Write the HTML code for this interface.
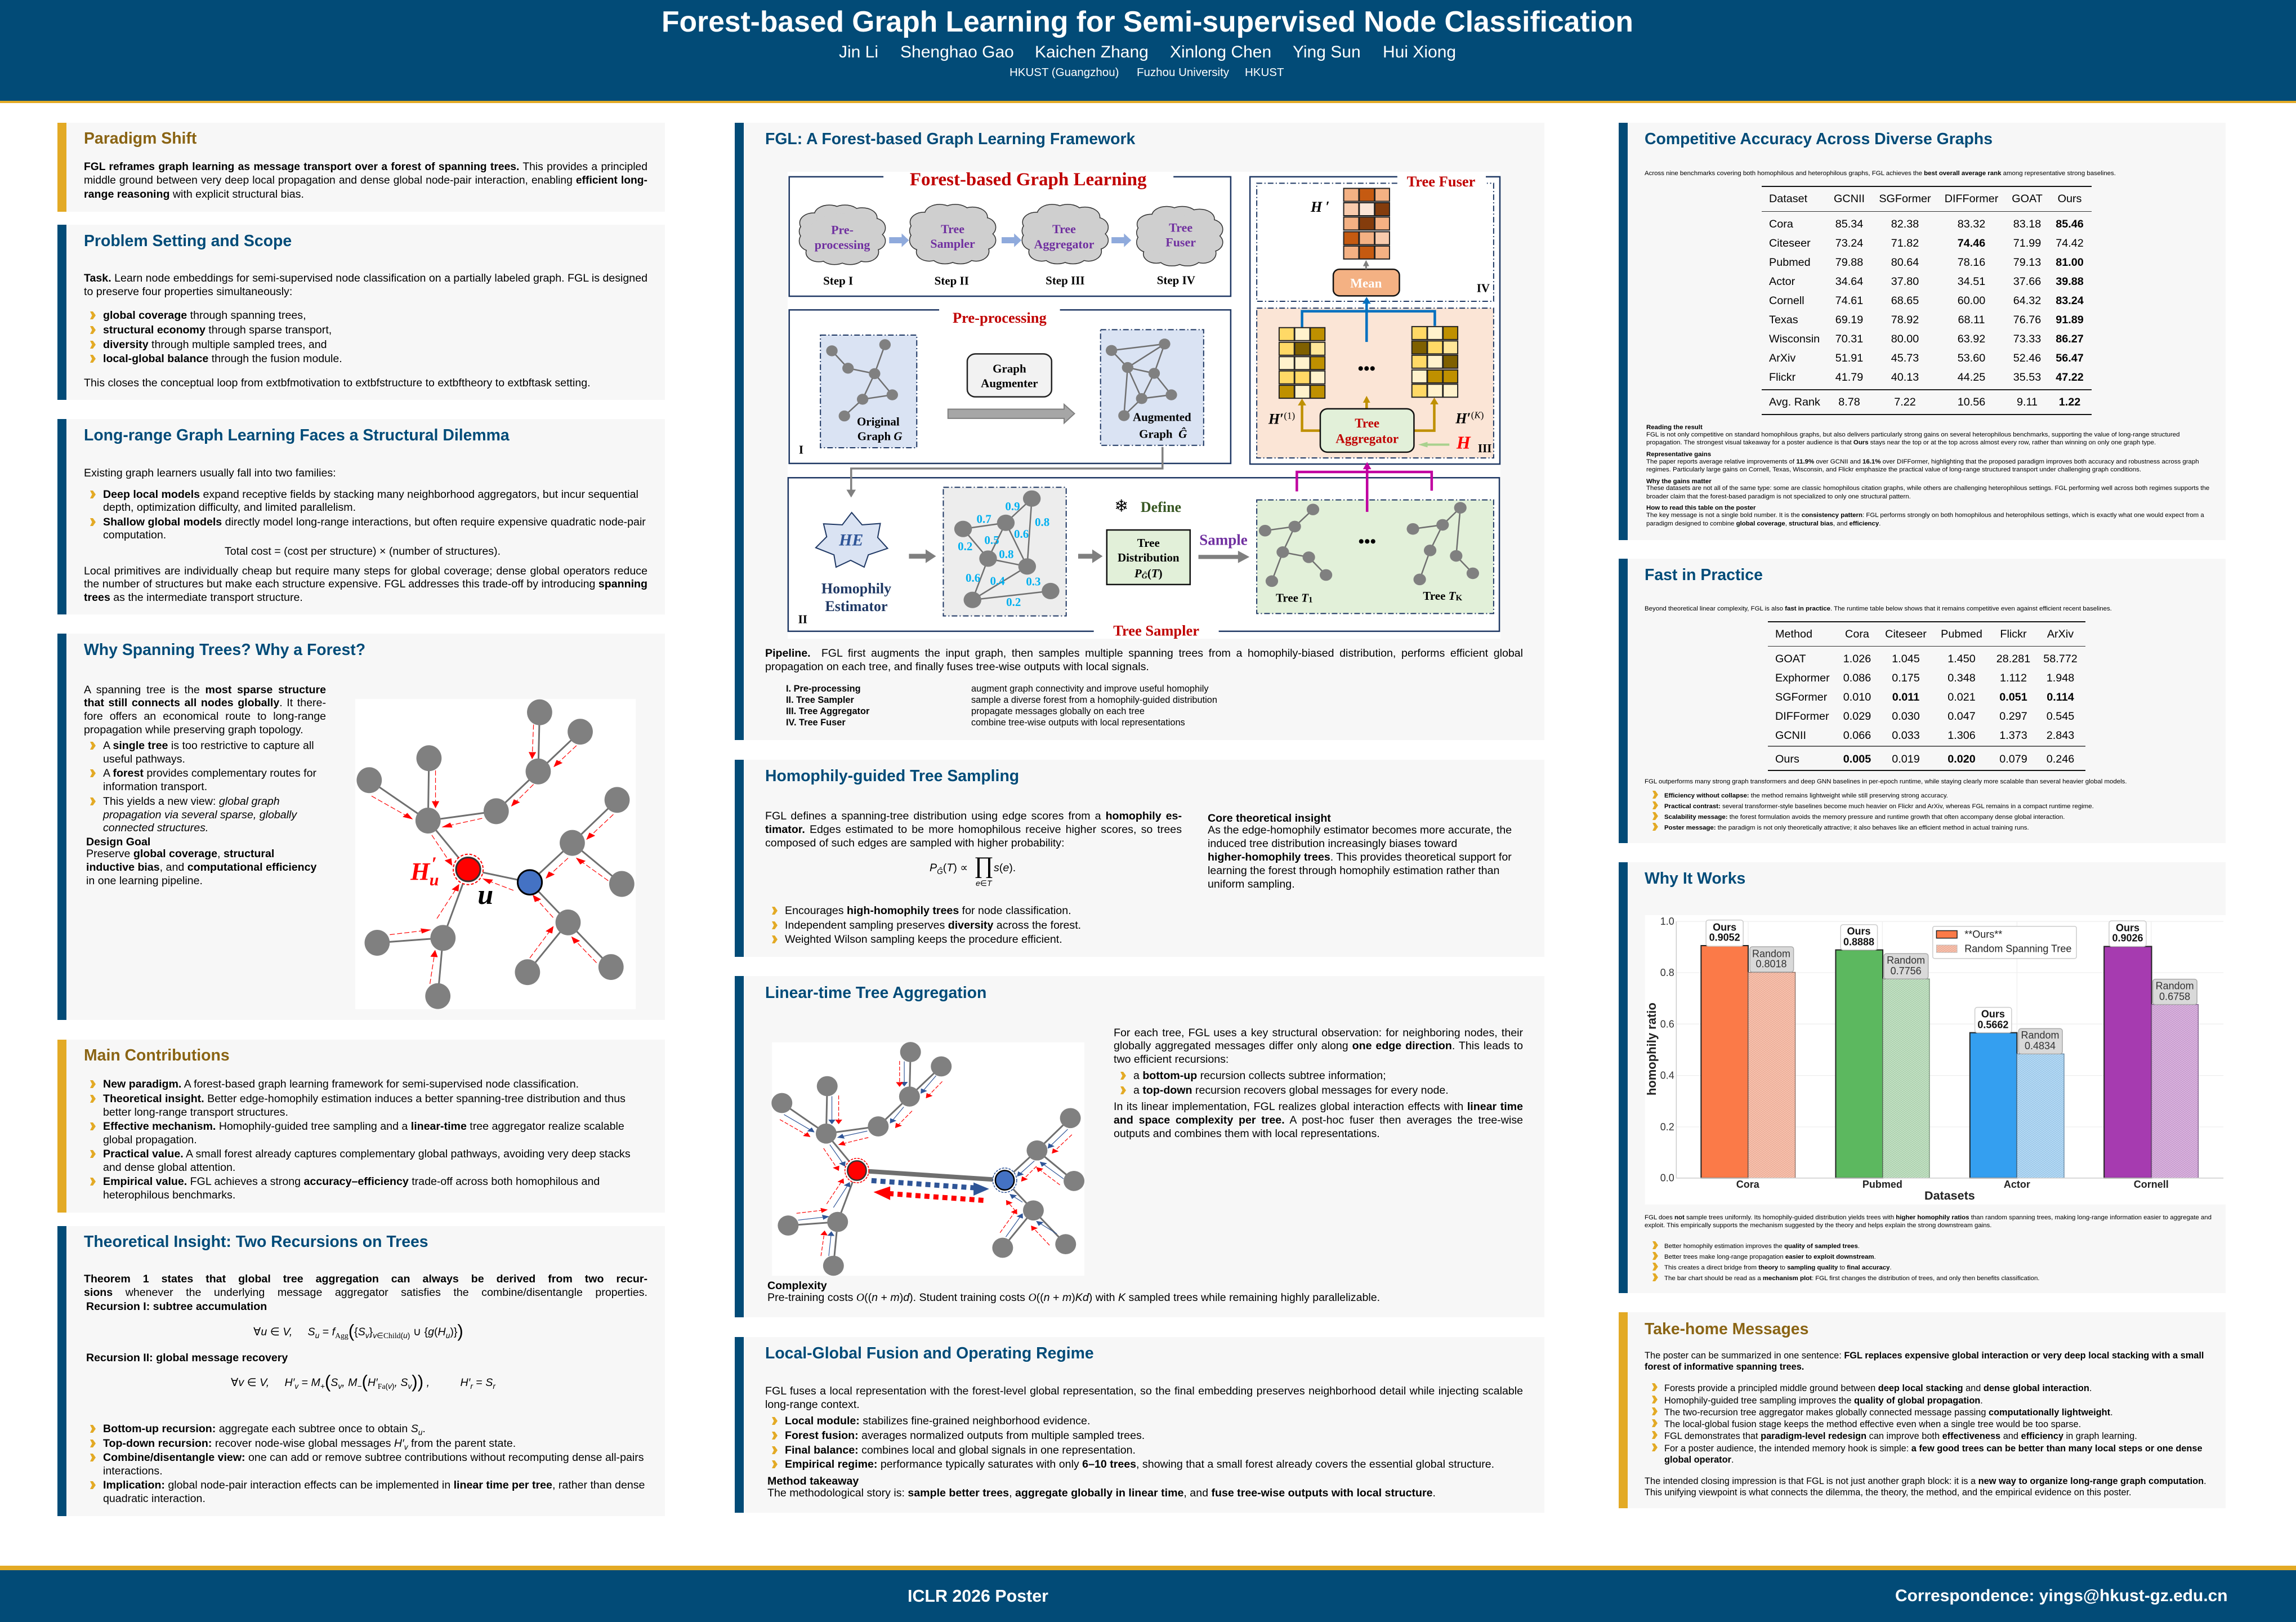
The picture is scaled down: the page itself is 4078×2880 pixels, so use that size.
<!DOCTYPE html>
<html><head><meta charset="utf-8"><title>FGL Poster</title>
<style>
html,body{margin:0;padding:0;background:#fff}
body{position:relative;width:4078px;height:2880px;overflow:hidden;font-family:"Liberation Sans",sans-serif;color:#000}
.bx{position:absolute}
p{position:absolute;margin:0;white-space:nowrap;font-size:19.6px;line-height:24px}
.j{text-align:justify;text-align-last:justify;white-space:normal}
.h{font-size:28.4px;line-height:34px;font-weight:bold;color:#004b78}
.g{color:#8a6414}
.s{font-size:11.45px;line-height:15px}
.m{font-size:16.35px;line-height:20px}
.li::before{content:"";position:absolute;left:-23px;top:5px;width:10px;height:14px;background:#e3aa25;clip-path:polygon(0 0,50% 0,100% 50%,50% 100%,0 100%,35% 50%)}
.m.li::before{left:-22px;top:1px}
.s.li::before{left:-21px;top:-2px}
.w{color:#fff}
.eq{font-style:italic}
.eq span{font-style:normal}
sub,sup{font-size:.7em;line-height:0}
.big{font-size:1.6em;font-style:normal;font-weight:normal;vertical-align:-.1em;line-height:0}
table{position:absolute;border-collapse:collapse;table-layout:fixed;font-size:19.8px;text-align:center}
td{padding:0}
td:first-child{text-align:left;padding-left:13px}
.r{position:absolute;background:#111}
svg{position:absolute;overflow:hidden}
svg *{vector-effect:non-scaling-stroke}
.f text{font-family:"Liberation Serif",serif;font-weight:bold;text-anchor:middle;dominant-baseline:central}
.c text{font-family:"Liberation Sans",sans-serif;text-anchor:middle;dominant-baseline:central}
</style></head><body>

<div class="bx" style="left:0;top:0;width:4078px;height:179px;background:#024b77"></div>
<div class="bx" style="left:0;top:179px;width:4078px;height:4px;background:#e3aa25"></div>
<div class="bx" style="left:0;top:2780px;width:4078px;height:8px;background:#e3aa25"></div>
<div class="bx" style="left:0;top:2788px;width:4078px;height:92px;background:#024b77"></div>

<p class="w" style="left:1175px;top:8px;font-size:51.6px;line-height:60px;font-weight:bold">Forest-based Graph Learning for Semi-supervised Node Classification</p>
<p class="w" style="left:1490px;top:75px;font-size:30px;line-height:36px">Jin Li</p>
<p class="w" style="left:1599px;top:75px;font-size:30px;line-height:36px">Shenghao Gao</p>
<p class="w" style="left:1838px;top:75px;font-size:30px;line-height:36px">Kaichen Zhang</p>
<p class="w" style="left:2078px;top:75px;font-size:30px;line-height:36px">Xinlong Chen</p>
<p class="w" style="left:2296px;top:75px;font-size:30px;line-height:36px">Ying Sun</p>
<p class="w" style="left:2456px;top:75px;font-size:30px;line-height:36px">Hui Xiong</p>
<p class="w" style="left:1793px;top:117px;font-size:20.5px">HKUST (Guangzhou)</p>
<p class="w" style="left:2019px;top:117px;font-size:20.5px">Fuzhou University</p>
<p class="w" style="left:2211px;top:117px;font-size:20.5px">HKUST</p>
<p class="w" style="left:1612px;top:2816px;font-size:30.4px;line-height:36px;font-weight:bold">ICLR 2026 Poster</p>
<p class="w" style="left:3366px;top:2816px;font-size:29.9px;line-height:36px;font-weight:bold">Correspondence: yings@hkust-gz.edu.cn</p>

<!-- panels: left -->
<div class="bx" style="left:102px;top:218px;width:1079px;height:158px;background:#f7f7f7;border-left:0"><div style="width:16px;height:100%;background:#e3aa25"></div></div>
<div class="bx" style="left:102px;top:399px;width:1079px;height:311px;background:#f7f7f7"><div style="width:16px;height:100%;background:#024b77"></div></div>
<div class="bx" style="left:102px;top:744px;width:1079px;height:347px;background:#f7f7f7"><div style="width:16px;height:100%;background:#024b77"></div></div>
<div class="bx" style="left:102px;top:1125px;width:1079px;height:686px;background:#f7f7f7"><div style="width:16px;height:100%;background:#024b77"></div></div>
<div class="bx" style="left:102px;top:1846px;width:1079px;height:307px;background:#f7f7f7"><div style="width:16px;height:100%;background:#e3aa25"></div></div>
<div class="bx" style="left:102px;top:2177px;width:1079px;height:515px;background:#f7f7f7"><div style="width:16px;height:100%;background:#024b77"></div></div>
<!-- panels: middle -->
<div class="bx" style="left:1305px;top:218px;width:1438px;height:1096px;background:#f7f7f7"><div style="width:16px;height:100%;background:#024b77"></div></div>
<div class="bx" style="left:1305px;top:1349px;width:1438px;height:350px;background:#f7f7f7"><div style="width:16px;height:100%;background:#024b77"></div></div>
<div class="bx" style="left:1305px;top:1733px;width:1438px;height:606px;background:#f7f7f7"><div style="width:16px;height:100%;background:#024b77"></div></div>
<div class="bx" style="left:1305px;top:2374px;width:1438px;height:312px;background:#f7f7f7"><div style="width:16px;height:100%;background:#024b77"></div></div>
<!-- panels: right -->
<div class="bx" style="left:2875px;top:218px;width:1078px;height:741px;background:#f7f7f7"><div style="width:16px;height:100%;background:#024b77"></div></div>
<div class="bx" style="left:2875px;top:992px;width:1078px;height:505px;background:#f7f7f7"><div style="width:16px;height:100%;background:#024b77"></div></div>
<div class="bx" style="left:2875px;top:1531px;width:1078px;height:765px;background:#f7f7f7"><div style="width:16px;height:100%;background:#024b77"></div></div>
<div class="bx" style="left:2875px;top:2330px;width:1078px;height:348px;background:#f7f7f7"><div style="width:16px;height:100%;background:#e3aa25"></div></div>

<!-- LEFT COLUMN TEXT -->
<p class="h g" style="left:149px;top:229px">Paradigm Shift</p>
<p class="j" style="left:149px;top:285px;width:1001px;font-size:19.3px;word-spacing:-2.5px"><b>FGL reframes graph learning as message transport over a forest of spanning trees.</b> This provides a principled</p>
<p class="j" style="left:149px;top:309px;width:1001px;font-size:19.3px;word-spacing:-2.5px">middle ground between very deep local propagation and dense global node-pair interaction, enabling <b>efficient long-</b></p>
<p style="left:149px;top:333px"><b>range reasoning</b> with explicit structural bias.</p>

<p class="h" style="left:149px;top:411px">Problem Setting and Scope</p>
<p class="j" style="left:149px;top:482px;width:1001px"><b>Task.</b> Learn node embeddings for semi-supervised node classification on a partially labeled graph. FGL is designed</p>
<p style="left:149px;top:506px">to preserve four properties simultaneously:</p>
<p class="li" style="left:183px;top:548px"><b>global coverage</b> through spanning trees,</p>
<p class="li" style="left:183px;top:574px"><b>structural economy</b> through sparse transport,</p>
<p class="li" style="left:183px;top:600px"><b>diversity</b> through multiple sampled trees, and</p>
<p class="li" style="left:183px;top:625px"><b>local-global balance</b> through the fusion module.</p>
<p style="left:149px;top:668px">This closes the conceptual loop from extbfmotivation to extbfstructure to extbftheory to extbftask setting.</p>

<p class="h" style="left:149px;top:756px">Long-range Graph Learning Faces a Structural Dilemma</p>
<p style="left:149px;top:828px">Existing graph learners usually fall into two families:</p>
<p class="li" style="left:183px;top:866px"><b>Deep local models</b> expand receptive fields by stacking many neighborhood aggregators, but incur sequential</p>
<p style="left:183px;top:889px">depth, optimization difficulty, and limited parallelism.</p>
<p class="li" style="left:183px;top:915px"><b>Shallow global models</b> directly model long-range interactions, but often require expensive quadratic node-pair</p>
<p style="left:183px;top:938px">computation.</p>
<p style="left:399px;top:967px">Total cost = (cost per structure) × (number of structures).</p>
<p class="j" style="left:149px;top:1002px;width:1001px">Local primitives are individually cheap but require many steps for global coverage; dense global operators reduce</p>
<p class="j" style="left:149px;top:1025px;width:1001px">the number of structures but make each structure expensive. FGL addresses this trade-off by introducing <b>spanning</b></p>
<p style="left:149px;top:1049px"><b>trees</b> as the intermediate transport structure.</p>

<p class="h" style="left:149px;top:1137px">Why Spanning Trees? Why a Forest?</p>
<p class="j" style="left:149px;top:1213px;width:430px">A spanning tree is the <b>most sparse structure</b></p>
<p class="j" style="left:149px;top:1236px;width:430px"><b>that still connects all nodes globally</b>. It there-</p>
<p class="j" style="left:149px;top:1260px;width:430px">fore offers an economical route to long-range</p>
<p style="left:149px;top:1284px">propagation while preserving graph topology.</p>
<p class="li" style="left:183px;top:1312px">A <b>single tree</b> is too restrictive to capture all</p>
<p style="left:183px;top:1336px">useful pathways.</p>
<p class="li" style="left:183px;top:1361px">A <b>forest</b> provides complementary routes for</p>
<p style="left:183px;top:1385px">information transport.</p>
<p class="li" style="left:183px;top:1411px">This yields a new view: <i>global graph</i></p>
<p style="left:183px;top:1435px"><i>propagation via several sparse, globally</i></p>
<p style="left:183px;top:1458px"><i>connected structures.</i></p>
<p style="left:153px;top:1483px"><b>Design Goal</b></p>
<p style="left:153px;top:1504px">Preserve <b>global coverage</b>, <b>structural</b></p>
<p style="left:153px;top:1528px"><b>inductive bias</b>, and <b>computational efficiency</b></p>
<p style="left:153px;top:1552px">in one learning pipeline.</p>

<!-- spanning tree figure -->
<svg class="f" style="left:0;top:1100px" width="1300" height="900" viewBox="0 0 1568 1568" preserveAspectRatio="none">
<defs><marker id="ra" markerUnits="userSpaceOnUse" markerWidth="22" markerHeight="22" refX="20" refY="11" orient="auto"><path d="M0 3 L22 11 L0 19 Z" fill="#f00"/></marker></defs>
<rect x="761" y="246" width="601" height="960" fill="#fff"/>
<g stroke="#6f6f6f" stroke-width="3" fill="none">
<path d="M1156 287L1153 470M1243 347L1153 470M1153 470L1063 593M1063 593L917 622M919 429L917 622M791 497L917 622M917 622L1003 773M1003 773L1135 813M1135 813L1226 691M1226 691L1322 558M1226 691L1332 818M1135 813L1217 937M1217 937L1309 1075M1217 937L1130 1091M1003 773L949 985M949 985L808 1000M949 985L938 1165"/>
</g>
<g stroke="#f00" stroke-width="1.2" stroke-dasharray="9 4" fill="none">
<line x1="1143" y1="325" x2="1140" y2="430" marker-end="url(#ra)"/><line x1="1235" y1="390" x2="1187" y2="455" marker-end="url(#ra)"/><line x1="1143" y1="510" x2="1096" y2="577" marker-end="url(#ra)"/><line x1="1033" y1="615" x2="948" y2="642" marker-end="url(#ra)"/><line x1="933" y1="467" x2="933" y2="582" marker-end="url(#ra)"/><line x1="796" y1="546" x2="883" y2="617" marker-end="url(#ra)"/><line x1="925" y1="667" x2="968" y2="760" marker-end="url(#ra)"/><line x1="936" y1="925" x2="983" y2="820" marker-end="url(#ra)"/><line x1="835" y1="975" x2="922" y2="960" marker-end="url(#ra)"/><line x1="921" y1="1127" x2="932" y2="1024" marker-end="url(#ra)"/><line x1="1100" y1="838" x2="1035" y2="802" marker-end="url(#ra)"/><line x1="1185" y1="922" x2="1142" y2="853" marker-end="url(#ra)"/><line x1="1135" y1="1047" x2="1185" y2="950" marker-end="url(#ra)"/><line x1="1278" y1="1062" x2="1225" y2="982" marker-end="url(#ra)"/><line x1="1217" y1="738" x2="1170" y2="800" marker-end="url(#ra)"/><line x1="1303" y1="808" x2="1235" y2="738" marker-end="url(#ra)"/><line x1="1314" y1="603" x2="1257" y2="680" marker-end="url(#ra)"/>
</g>
<g fill="#808080">
<ellipse cx="1156" cy="287" rx="27" ry="40"/><ellipse cx="1243" cy="347" rx="27" ry="40"/><ellipse cx="1153" cy="470" rx="27" ry="40"/><ellipse cx="1063" cy="593" rx="27" ry="40"/><ellipse cx="919" cy="429" rx="27" ry="40"/><ellipse cx="791" cy="497" rx="27" ry="40"/><ellipse cx="917" cy="622" rx="27" ry="40"/><ellipse cx="1226" cy="691" rx="27" ry="40"/><ellipse cx="1322" cy="558" rx="27" ry="40"/><ellipse cx="1332" cy="818" rx="27" ry="40"/><ellipse cx="1217" cy="937" rx="27" ry="40"/><ellipse cx="1309" cy="1075" rx="27" ry="40"/><ellipse cx="1130" cy="1091" rx="27" ry="40"/><ellipse cx="949" cy="985" rx="27" ry="40"/><ellipse cx="808" cy="1000" rx="27" ry="40"/><ellipse cx="938" cy="1165" rx="27" ry="40"/>
</g>
<ellipse cx="1003" cy="773" rx="32" ry="47" fill="#fff" stroke="#f00" stroke-width="2" stroke-dasharray="5 3"/>
<ellipse cx="1003" cy="773" rx="26" ry="37" fill="#f00" stroke="#333" stroke-width="3"/>
<ellipse cx="1135" cy="813" rx="26" ry="38" fill="#4472c4" stroke="#000" stroke-width="3"/>
<text transform="translate(900 780) scale(1.206 1.742)" font-size="44" font-style="italic" fill="#f00">H</text>
<text transform="translate(930 756) scale(1.206 1.742)" font-size="34" font-style="italic" fill="#f00">′</text>
<text transform="translate(930 806) scale(1.206 1.742)" font-size="30" font-style="italic" fill="#f00">u</text>
<text transform="translate(1040 850) scale(1.206 1.742)" font-size="50" font-style="italic" fill="#000">u</text>
</svg>

<p class="h g" style="left:149px;top:1857px">Main Contributions</p>
<p class="li" style="left:183px;top:1913px"><b>New paradigm.</b> A forest-based graph learning framework for semi-supervised node classification.</p>
<p class="li" style="left:183px;top:1939px"><b>Theoretical insight.</b> Better edge-homophily estimation induces a better spanning-tree distribution and thus</p>
<p style="left:183px;top:1963px">better long-range transport structures.</p>
<p class="li" style="left:183px;top:1988px"><b>Effective mechanism.</b> Homophily-guided tree sampling and a <b>linear-time</b> tree aggregator realize scalable</p>
<p style="left:183px;top:2012px">global propagation.</p>
<p class="li" style="left:183px;top:2037px"><b>Practical value.</b> A small forest already captures complementary global pathways, avoiding very deep stacks</p>
<p style="left:183px;top:2061px">and dense global attention.</p>
<p class="li" style="left:183px;top:2086px"><b>Empirical value.</b> FGL achieves a strong <b>accuracy–efficiency</b> trade-off across both homophilous and</p>
<p style="left:183px;top:2110px">heterophilous benchmarks.</p>

<p class="h" style="left:149px;top:2188px">Theoretical Insight: Two Recursions on Trees</p>
<p class="j" style="left:149px;top:2259px;width:1001px"><b>Theorem 1 states that global tree aggregation can always be derived from two recur-</b></p>
<p class="j" style="left:149px;top:2283px;width:1001px"><b>sions</b> whenever the underlying message aggregator satisfies the combine/disentangle properties.</p>
<p style="left:153px;top:2308px"><b>Recursion I: subtree accumulation</b></p>
<p class="eq" style="left:450px;top:2353px"><span>∀</span>u <span>∈</span> V,&nbsp;&nbsp;&nbsp;&nbsp;&nbsp;S<sub>u</sub> <span>=</span> f<sub><span style="font-family:'Liberation Serif'">Agg</span></sub><span class="big">(</span><span>{</span>S<sub>v</sub><span>}</span><sub>v<span>∈</span><span style="font-family:'Liberation Serif'">Child</span><span>(</span>u<span>)</span></sub> <span>∪</span> <span>{</span>g<span>(</span>H<sub>u</sub><span>)}</span><span class="big">)</span></p>
<p style="left:153px;top:2399px"><b>Recursion II: global message recovery</b></p>
<p class="eq" style="left:410px;top:2443px"><span>∀</span>v <span>∈</span> V,&nbsp;&nbsp;&nbsp;&nbsp;&nbsp;H′<sub>v</sub> <span>=</span> M<sub>+</sub><span class="big">(</span>S<sub>v</sub>, M<sub>−</sub><span class="big">(</span>H′<sub><span style="font-family:'Liberation Serif'">Fa</span><span>(</span>v<span>)</span></sub>, S<sub>v</sub><span class="big">))</span> ,&nbsp;&nbsp;&nbsp;&nbsp;&nbsp;&nbsp;&nbsp;&nbsp;&nbsp;&nbsp;H′<sub>r</sub> <span>=</span> S<sub>r</sub></p>
<p class="li" style="left:183px;top:2525px"><b>Bottom-up recursion:</b> aggregate each subtree once to obtain <i>S<sub>u</sub></i>.</p>
<p class="li" style="left:183px;top:2551px"><b>Top-down recursion:</b> recover node-wise global messages <i>H′<sub>v</sub></i> from the parent state.</p>
<p class="li" style="left:183px;top:2576px"><b>Combine/disentangle view:</b> one can add or remove subtree contributions without recomputing dense all-pairs</p>
<p style="left:183px;top:2600px">interactions.</p>
<p class="li" style="left:183px;top:2625px"><b>Implication:</b> global node-pair interaction effects can be implemented in <b>linear time per tree</b>, rather than dense</p>
<p style="left:183px;top:2649px">quadratic interaction.</p>

<!-- MIDDLE COLUMN -->
<p class="h" style="left:1359px;top:230px">FGL: A Forest-based Graph Learning Framework</p>

<svg class="f" style="left:1300px;top:200px" width="1450" height="950" viewBox="0 0 1568 1568" preserveAspectRatio="none">
<defs>
<g id="cl">
<g fill="#333" stroke="#333" stroke-width="3">
<ellipse cx="-55" cy="-35" rx="26" ry="28"/><ellipse cx="-25" cy="-58" rx="28" ry="28"/><ellipse cx="5" cy="-62" rx="27" ry="24"/><ellipse cx="38" cy="-50" rx="28" ry="28"/><ellipse cx="60" cy="-20" rx="22" ry="28"/><ellipse cx="62" cy="18" rx="20" ry="26"/><ellipse cx="45" cy="50" rx="24" ry="28"/><ellipse cx="15" cy="62" rx="26" ry="24"/><ellipse cx="-15" cy="62" rx="26" ry="24"/><ellipse cx="-45" cy="52" rx="24" ry="26"/><ellipse cx="-62" cy="18" rx="20" ry="28"/><ellipse cx="-62" cy="-10" rx="20" ry="26"/>
</g>
<g fill="#cfcfcf">
<ellipse cx="-55" cy="-35" rx="26" ry="28"/><ellipse cx="-25" cy="-58" rx="28" ry="28"/><ellipse cx="5" cy="-62" rx="27" ry="24"/><ellipse cx="38" cy="-50" rx="28" ry="28"/><ellipse cx="60" cy="-20" rx="22" ry="28"/><ellipse cx="62" cy="18" rx="20" ry="26"/><ellipse cx="45" cy="50" rx="24" ry="28"/><ellipse cx="15" cy="62" rx="26" ry="24"/><ellipse cx="-15" cy="62" rx="26" ry="24"/><ellipse cx="-45" cy="52" rx="24" ry="26"/><ellipse cx="-62" cy="18" rx="20" ry="28"/><ellipse cx="-62" cy="-10" rx="20" ry="26"/><ellipse cx="0" cy="0" rx="68" ry="62"/>
</g>
</g>
</defs>
<rect x="107" y="173" width="1369" height="1369" fill="#fff"/>
<g fill="none" stroke="#1f3864" stroke-width="2.5">
<path d="M291 188H110V538H958V188H848"/>
<path d="M398 578H110V1028H958V578H630"/>
<path d="M695 1520H108V1070H1474V1520H935"/>
<path d="M1278 188H995V1030H1475V188H1448"/>
</g>
<g fill="none" stroke="#1f3864" stroke-width="2" stroke-dasharray="10 4 2 4">
<path d="M1278 207H1008V553H1463V207H1450"/>
<rect x="1008" y="573" width="455" height="439" fill="#fbe5d6"/>
<rect x="170" y="652" width="185" height="330" fill="#dae3f3"/>
<rect x="708" y="636" width="198" height="339" fill="#dae3f3"/>
<rect x="406" y="1098" width="236" height="377" fill="#ededed"/>
<rect x="1008" y="1135" width="455" height="333" fill="#e2f0d9"/>
</g>
<use href="#cl" x="212" y="358"/><use href="#cl" x="424" y="356"/><use href="#cl" x="640" y="356"/><use href="#cl" x="860" y="362"/>
<g fill="#8faadc">
<polygon points="302,365 326,365 326,354 340,374 326,394 326,383 302,383"/>
<polygon points="518,365 542,365 542,354 556,374 542,394 542,383 518,383"/>
<polygon points="729,365 753,365 753,354 767,374 753,394 753,383 729,383"/>
</g>
<polygon points="415,869 638,869 638,855 658,882 638,910 638,896 415,896" fill="#a6a6a6" stroke="#7f7f7f" stroke-width="2"/>
<rect x="452" y="707" width="162" height="126" rx="16" ry="22" fill="#f2f2f2" stroke="#222" stroke-width="2.5"/>
<!-- graphs -->
<g stroke="#6f6f6f" stroke-width="2.5" fill="none">
<path d="M192 698L223 749L274 765L294 680M274 765L251 840L308 827L274 765M251 840L216 889"/>
<path d="M729 697L831 678L760 747L729 697M760 747L811 764L831 678M811 764L787 838L760 747M811 764L844 827L787 838L753 888L760 747"/>
<path d="M444 1220L526 1202L576 1131L567 1330L526 1202L492 1307L444 1220M492 1307L567 1330L462 1428L492 1307M462 1428L612 1402"/>
<path d="M1116 1163L1081 1213L1024 1225M1081 1213L1058 1288L1108 1303L1141 1355M1058 1288L1037 1373"/>
<path d="M1399 1158L1365 1208L1308 1220M1365 1208L1341 1283L1321 1368M1399 1158L1391 1299L1423 1350"/>
</g>
<g fill="#808080">
<ellipse cx="192" cy="698" rx="11" ry="16"/><ellipse cx="294" cy="680" rx="11" ry="16"/><ellipse cx="223" cy="749" rx="11" ry="16"/><ellipse cx="274" cy="765" rx="11" ry="16"/><ellipse cx="251" cy="840" rx="11" ry="16"/><ellipse cx="308" cy="827" rx="11" ry="16"/><ellipse cx="216" cy="889" rx="11" ry="16"/>
<ellipse cx="729" cy="697" rx="11" ry="16"/><ellipse cx="831" cy="678" rx="11" ry="16"/><ellipse cx="760" cy="747" rx="11" ry="16"/><ellipse cx="811" cy="764" rx="11" ry="16"/><ellipse cx="787" cy="838" rx="11" ry="16"/><ellipse cx="844" cy="827" rx="11" ry="16"/><ellipse cx="753" cy="888" rx="11" ry="16"/>
<ellipse cx="576" cy="1131" rx="17" ry="24"/><ellipse cx="444" cy="1220" rx="17" ry="24"/><ellipse cx="526" cy="1202" rx="17" ry="24"/><ellipse cx="492" cy="1307" rx="17" ry="24"/><ellipse cx="567" cy="1330" rx="17" ry="24"/><ellipse cx="462" cy="1428" rx="17" ry="24"/><ellipse cx="612" cy="1402" rx="17" ry="24"/>
<ellipse cx="1116" cy="1163" rx="12" ry="17"/><ellipse cx="1081" cy="1213" rx="12" ry="17"/><ellipse cx="1024" cy="1225" rx="12" ry="17"/><ellipse cx="1058" cy="1288" rx="12" ry="17"/><ellipse cx="1108" cy="1303" rx="12" ry="17"/><ellipse cx="1037" cy="1373" rx="12" ry="17"/><ellipse cx="1141" cy="1355" rx="12" ry="17"/>
<ellipse cx="1399" cy="1158" rx="12" ry="17"/><ellipse cx="1365" cy="1208" rx="12" ry="17"/><ellipse cx="1308" cy="1220" rx="12" ry="17"/><ellipse cx="1341" cy="1283" rx="12" ry="17"/><ellipse cx="1391" cy="1299" rx="12" ry="17"/><ellipse cx="1321" cy="1368" rx="12" ry="17"/><ellipse cx="1423" cy="1350" rx="12" ry="17"/>
</g>
<!-- connector -->
<path d="M827 980V1043H229V1108" fill="none" stroke="#808080" stroke-width="3.5"/>
<polygon points="220,1105 238,1105 229,1128" fill="#808080"/>
<!-- HE star -->
<polygon points="230,1172 250,1208 285,1204 280,1245 299,1277 262,1296 254,1332 228,1312 200,1332 196,1296 161,1275 182,1243 176,1205 212,1208" fill="#dae3f3" stroke="#1f3864" stroke-width="2"/>
<g fill="#7f7f7f">
<polygon points="340,1293 372,1293 372,1280 392,1300 372,1320 372,1307 340,1307"/>
<polygon points="665,1293 692,1293 692,1280 712,1300 692,1320 692,1307 665,1307"/>
<polygon points="896,1296 972,1296 972,1284 994,1302 972,1320 972,1308 896,1308"/>
</g>
<rect x="720" y="1223" width="160" height="160" fill="#e2f0d9" stroke="#111" stroke-width="2.5"/>
<!-- magenta -->
<path d="M1085 1110V1053H1344V1108M1220 1170V1040" fill="none" stroke="#c000a0" stroke-width="4.5"/>
<polygon points="1212,1045 1228,1045 1220,1024" fill="#c000a0"/>
<!-- Aggregator -->
<path d="M1130 932H1095V850M1310 932H1349V850M1219 868V845" fill="none" stroke="#bf9000" stroke-width="4.5"/>
<polygon points="1087,858 1103,858 1095,838" fill="#bf9000"/><polygon points="1341,855 1357,855 1349,835" fill="#bf9000"/><polygon points="1212,850 1226,850 1219,830" fill="#bf9000"/>
<rect x="1130" y="868" width="180" height="127" rx="14" ry="20" fill="#e2f0d9" stroke="#111" stroke-width="2.5"/>
<path d="M1378 973H1332" stroke="#a9d18e" stroke-width="4" fill="none"/><polygon points="1336,965 1336,981 1318,973" fill="#a9d18e"/>
<!-- blue bracket -->
<path d="M1095 630V582H1350V625M1219 672V555" fill="none" stroke="#0070c0" stroke-width="4.5"/>
<polygon points="1211,560 1227,560 1219,540" fill="#0070c0"/>
<!-- matrices -->
<g stroke="#222" stroke-width="2">
<rect x="1051" y="630" width="29" height="38" fill="#ffd966"/><rect x="1081" y="630" width="29" height="38" fill="#fff2cc"/><rect x="1111" y="630" width="28" height="38" fill="#bf9000"/>
<rect x="1051" y="673" width="29" height="38" fill="#ffd966"/><rect x="1081" y="673" width="29" height="38" fill="#7f6000"/><rect x="1111" y="673" width="28" height="38" fill="#ffe699"/>
<rect x="1051" y="715" width="29" height="38" fill="#fff2cc"/><rect x="1081" y="715" width="29" height="38" fill="#fff2cc"/><rect x="1111" y="715" width="28" height="38" fill="#bf9000"/>
<rect x="1051" y="757" width="29" height="38" fill="#ffd966"/><rect x="1081" y="757" width="29" height="38" fill="#ffd966"/><rect x="1111" y="757" width="28" height="38" fill="#fff2cc"/>
<rect x="1051" y="799" width="29" height="38" fill="#bf9000"/><rect x="1081" y="799" width="29" height="38" fill="#fff2cc"/><rect x="1111" y="799" width="28" height="38" fill="#bf9000"/>
<rect x="1306" y="627" width="29" height="38" fill="#ffd966"/><rect x="1336" y="627" width="29" height="38" fill="#fff2cc"/><rect x="1366" y="627" width="28" height="38" fill="#bf9000"/>
<rect x="1306" y="669" width="29" height="38" fill="#7f6000"/><rect x="1336" y="669" width="29" height="38" fill="#ffd966"/><rect x="1366" y="669" width="28" height="38" fill="#ffe699"/>
<rect x="1306" y="711" width="29" height="38" fill="#ffd966"/><rect x="1336" y="711" width="29" height="38" fill="#fff2cc"/><rect x="1366" y="711" width="28" height="38" fill="#7f6000"/>
<rect x="1306" y="754" width="29" height="38" fill="#fff2cc"/><rect x="1336" y="754" width="29" height="38" fill="#bf9000"/><rect x="1366" y="754" width="28" height="38" fill="#bf9000"/>
<rect x="1306" y="796" width="29" height="38" fill="#ffd966"/><rect x="1336" y="796" width="29" height="38" fill="#fff2cc"/><rect x="1366" y="796" width="28" height="38" fill="#fff2cc"/>
<rect x="1175" y="222" width="29" height="38" fill="#f4b183"/><rect x="1205" y="222" width="29" height="38" fill="#c55a11"/><rect x="1235" y="222" width="28" height="38" fill="#f4b183"/>
<rect x="1175" y="264" width="29" height="38" fill="#f8cbad"/><rect x="1205" y="264" width="29" height="38" fill="#fbe5d6"/><rect x="1235" y="264" width="28" height="38" fill="#843c0c"/>
<rect x="1175" y="306" width="29" height="38" fill="#f4b183"/><rect x="1205" y="306" width="29" height="38" fill="#843c0c"/><rect x="1235" y="306" width="28" height="38" fill="#f4b183"/>
<rect x="1175" y="349" width="29" height="38" fill="#c55a11"/><rect x="1205" y="349" width="29" height="38" fill="#f4b183"/><rect x="1235" y="349" width="28" height="38" fill="#f8cbad"/>
<rect x="1175" y="391" width="29" height="38" fill="#f4b183"/><rect x="1205" y="391" width="29" height="38" fill="#c55a11"/><rect x="1235" y="391" width="28" height="38" fill="#f4b183"/>
</g>
<rect x="1155" y="459" width="127" height="78" rx="12" ry="18" fill="#f4b183" stroke="#111" stroke-width="2.5"/>
<path d="M1218 459V445" stroke="#7f7f7f" stroke-width="3" fill="none"/><polygon points="1212,450 1224,450 1218,432" fill="#7f7f7f"/>
<!-- labels -->
<g fill="#000" font-size="21">
<text transform="translate(569 196) scale(1.081 1.65)" font-size="33" fill="#c00000">Forest-based Graph Learning</text>
<g fill="#7030a0" font-size="22">
<text transform="translate(212 343) scale(1.081 1.65)">Pre-</text><text transform="translate(212 387) scale(1.081 1.65)">processing</text>
<text transform="translate(424 341) scale(1.081 1.65)">Tree</text><text transform="translate(424 384) scale(1.081 1.65)">Sampler</text>
<text transform="translate(638 341) scale(1.081 1.65)">Tree</text><text transform="translate(638 385) scale(1.081 1.65)">Aggregator</text>
<text transform="translate(862 337) scale(1.081 1.65)">Tree</text><text transform="translate(862 380) scale(1.081 1.65)">Fuser</text>
</g>
<text transform="translate(204 493) scale(1.081 1.65)">Step I</text><text transform="translate(422 493) scale(1.081 1.65)">Step II</text><text transform="translate(640 492) scale(1.081 1.65)">Step III</text><text transform="translate(853 491) scale(1.081 1.65)">Step IV</text>
<text transform="translate(514 601) scale(1.081 1.65)" font-size="26.5" fill="#c00000">Pre-processing</text>
<text transform="translate(133 988) scale(1.081 1.65)">I</text>
<text transform="translate(136 1485) scale(1.081 1.65)">II</text>
<text transform="translate(1446 984) scale(1.081 1.65)">III</text>
<text transform="translate(1443 514) scale(1.081 1.65)">IV</text>
<text transform="translate(281 905) scale(1.081 1.65)">Original</text>
<text transform="translate(284 948) scale(1.081 1.65)">Graph <tspan font-style="italic">G</tspan></text>
<text transform="translate(826 892) scale(1.081 1.65)">Augmented</text>
<text transform="translate(828 942) scale(1.081 1.65)">Graph <tspan font-style="italic">&#160;Ĝ</tspan></text>
<text transform="translate(533 750) scale(1.081 1.65)">Graph</text><text transform="translate(533 793) scale(1.081 1.65)">Augmenter</text>
<text transform="translate(229 1253) scale(1.081 1.65)" font-size="30" font-style="italic" fill="#2f5597">HE</text>
<text transform="translate(239 1395) scale(1.081 1.65)" font-size="26" fill="#1f3864">Homophily</text>
<text transform="translate(239 1447) scale(1.081 1.65)" font-size="26" fill="#1f3864">Estimator</text>
<g fill="#00b0f0" font-size="21">
<text transform="translate(539 1154) scale(1.081 1.65)">0.9</text><text transform="translate(596 1200) scale(1.081 1.65)">0.8</text><text transform="translate(484 1191) scale(1.081 1.65)">0.7</text><text transform="translate(556 1235) scale(1.081 1.65)">0.6</text><text transform="translate(499 1253) scale(1.081 1.65)">0.5</text><text transform="translate(448 1271) scale(1.081 1.65)">0.2</text><text transform="translate(527 1294) scale(1.081 1.65)">0.8</text><text transform="translate(463 1363) scale(1.081 1.65)">0.6</text><text transform="translate(510 1372) scale(1.081 1.65)">0.4</text><text transform="translate(579 1374) scale(1.081 1.65)">0.3</text><text transform="translate(541 1434) scale(1.081 1.65)">0.2</text>
</g>
<text transform="translate(748 1154) scale(1.081 1.65)" font-size="30" style="font-family:'DejaVu Sans',sans-serif">❄</text>
<text transform="translate(824 1156) scale(1.081 1.65)" font-size="26" fill="#385723">Define</text>
<text transform="translate(800 1261) scale(1.081 1.65)">Tree</text><text transform="translate(800 1304) scale(1.081 1.65)">Distribution</text>
<text transform="translate(800 1350) scale(1.081 1.65)" font-style="italic">P<tspan font-size="14" dy="5">Ĝ</tspan><tspan dy="-5" font-style="normal">(</tspan>T<tspan font-style="normal">)</tspan></text>
<text transform="translate(944 1252) scale(1.081 1.65)" font-size="27" fill="#7030a0">Sample</text>
<text transform="translate(1080 1422) scale(1.081 1.65)">Tree <tspan font-style="italic">T</tspan><tspan font-size="15" dy="4">1</tspan></text>
<text transform="translate(1365 1416) scale(1.081 1.65)">Tree <tspan font-style="italic">T</tspan><tspan font-size="15" dy="4">K</tspan></text>
<text transform="translate(1220 1257) scale(1.081 1.65)" font-size="30">•••</text>
<text transform="translate(1219 750) scale(1.081 1.65)" font-size="30">•••</text>
<text transform="translate(815 1518) scale(1.081 1.65)" font-size="26.5" fill="#c00000">Tree Sampler</text>
<text transform="translate(1362 201) scale(1.081 1.65)" font-size="26.5" fill="#c00000">Tree Fuser</text>
<text transform="translate(1220 910) scale(1.081 1.65)" font-size="23" fill="#c00000">Tree</text>
<text transform="translate(1220 956) scale(1.081 1.65)" font-size="23" fill="#c00000">Aggregator</text>
<text transform="translate(1056 897) scale(1.081 1.65)" font-size="26"><tspan font-style="italic">H</tspan>′<tspan font-size="17" dy="-6" font-weight="normal">(1)</tspan></text>
<text transform="translate(1417 895) scale(1.081 1.65)" font-size="26"><tspan font-style="italic">H</tspan>′<tspan font-size="17" dy="-6" font-weight="normal">(<tspan font-style="italic">K</tspan>)</tspan></text>
<text transform="translate(1405 967) scale(1.081 1.65)" font-size="32" font-style="italic" fill="#f00">H</text>
<text transform="translate(1130 276) scale(1.081 1.65)" font-size="26"><tspan font-style="italic">H</tspan> ′</text>
<text transform="translate(1218 500) scale(1.081 1.65)" font-size="23" fill="#fff">Mean</text>
</g>
</svg>

<p class="j" style="left:1359px;top:1148px;width:1346px"><b>Pipeline.</b>&nbsp; FGL first augments the input graph, then samples multiple spanning trees from a homophily-biased distribution, performs efficient global</p>
<p style="left:1359px;top:1172px">propagation on each tree, and finally fuses tree-wise outputs with local signals.</p>
<p class="m" style="left:1396px;top:1213px"><b>I. Pre-processing</b></p><p class="m" style="left:1725px;top:1213px">augment graph connectivity and improve useful homophily</p>
<p class="m" style="left:1396px;top:1233px"><b>II. Tree Sampler</b></p><p class="m" style="left:1725px;top:1233px">sample a diverse forest from a homophily-guided distribution</p>
<p class="m" style="left:1396px;top:1253px"><b>III. Tree Aggregator</b></p><p class="m" style="left:1725px;top:1253px">propagate messages globally on each tree</p>
<p class="m" style="left:1396px;top:1273px"><b>IV. Tree Fuser</b></p><p class="m" style="left:1725px;top:1273px">combine tree-wise outputs with local representations</p>

<p class="h" style="left:1359px;top:1361px">Homophily-guided Tree Sampling</p>
<p class="j" style="left:1359px;top:1437px;width:740px">FGL defines a spanning-tree distribution using edge scores from a <b>homophily es-</b></p>
<p class="j" style="left:1359px;top:1461px;width:740px"><b>timator.</b> Edges estimated to be more homophilous receive higher scores, so trees</p>
<p style="left:1359px;top:1485px">composed of such edges are sampled with higher probability:</p>
<p class="eq" style="left:1651px;top:1529px">P<sub>Ĝ</sub><span>(</span>T<span>)</span> <span>∝</span></p>
<p style="left:1730px;top:1515px;font-family:'Liberation Serif',serif;font-size:42px;line-height:44px">∏</p>
<p class="eq" style="left:1765px;top:1529px">s<span>(</span>e<span>).</span></p>
<p class="eq" style="left:1733px;top:1560px;font-size:14px;line-height:16px">e<span>∈</span>T</p>
<p style="left:2145px;top:1441px"><b>Core theoretical insight</b></p>
<p style="left:2145px;top:1462px">As the edge-homophily estimator becomes more accurate, the</p>
<p style="left:2145px;top:1486px">induced tree distribution increasingly biases toward</p>
<p style="left:2145px;top:1510px"><b>higher-homophily trees</b>. This provides theoretical support for</p>
<p style="left:2145px;top:1534px">learning the forest through homophily estimation rather than</p>
<p style="left:2145px;top:1558px">uniform sampling.</p>
<p class="li" style="left:1394px;top:1605px">Encourages <b>high-homophily trees</b> for node classification.</p>
<p class="li" style="left:1394px;top:1631px">Independent sampling preserves <b>diversity</b> across the forest.</p>
<p class="li" style="left:1394px;top:1656px">Weighted Wilson sampling keeps the procedure efficient.</p>

<p class="h" style="left:1359px;top:1746px">Linear-time Tree Aggregation</p>

<svg style="left:1300px;top:1720px" width="1450" height="1000" viewBox="0 0 1568 1568" preserveAspectRatio="none">
<defs>
<marker id="rb" markerUnits="userSpaceOnUse" markerWidth="13" markerHeight="16" refX="12" refY="8" orient="auto"><path d="M0 1 L13 8 L0 15 Z" fill="#f00"/></marker>
<marker id="bb" markerUnits="userSpaceOnUse" markerWidth="13" markerHeight="16" refX="12" refY="8" orient="auto"><path d="M0 1 L13 8 L0 15 Z" fill="#2f5597"/></marker>
</defs>
<rect x="77" y="205" width="600" height="650" fill="#fff"/>
<path d="M343 232L341 356M402 272L341 356L281 439L181 459M183 327L181 459M96 374L181 459L240 562M586 506L650 416M586 506L657 591M586 506L524 589L579 673L641 767M579 673L520 777M240 562L203 705L108 715M203 705L195 827" fill="none" stroke="#6f6f6f" stroke-width="3"/>
<line x1="240" y1="562" x2="524" y2="589" stroke="#6f6f6f" stroke-width="8"/>
<g stroke="#2f5597" stroke-width="1.2" fill="none">
<line x1="331" y1="258" x2="331" y2="327" marker-end="url(#bb)"/><line x1="392" y1="298" x2="363" y2="347" marker-end="url(#bb)"/><line x1="330" y1="385" x2="304" y2="430" marker-end="url(#bb)"/><line x1="260" y1="452" x2="203" y2="470" marker-end="url(#bb)"/><line x1="192" y1="355" x2="192" y2="432" marker-end="url(#bb)"/><line x1="100" y1="406" x2="158" y2="455" marker-end="url(#bb)"/><line x1="188" y1="490" x2="217" y2="550" marker-end="url(#bb)"/><line x1="195" y1="665" x2="226" y2="595" marker-end="url(#bb)"/><line x1="127" y1="700" x2="186" y2="690" marker-end="url(#bb)"/><line x1="186" y1="800" x2="191" y2="732" marker-end="url(#bb)"/><line x1="581" y1="535" x2="548" y2="578" marker-end="url(#bb)"/><line x1="645" y1="447" x2="607" y2="500" marker-end="url(#bb)"/><line x1="637" y1="585" x2="592" y2="538" marker-end="url(#bb)"/><line x1="558" y1="650" x2="534" y2="628" marker-end="url(#bb)"/><line x1="526" y1="747" x2="558" y2="682" marker-end="url(#bb)"/><line x1="624" y1="738" x2="585" y2="703" marker-end="url(#bb)"/>
</g>
<g stroke="#f00" stroke-width="1.2" fill="none" stroke-dasharray="7 3">
<line x1="322" y1="257" x2="322" y2="328" marker-end="url(#rb)"/><line x1="404" y1="314" x2="373" y2="360" marker-end="url(#rb)"/><line x1="346" y1="396" x2="314" y2="443" marker-end="url(#rb)"/><line x1="262" y1="470" x2="205" y2="490" marker-end="url(#rb)"/><line x1="205" y1="353" x2="205" y2="432" marker-end="url(#rb)"/><line x1="92" y1="420" x2="150" y2="468" marker-end="url(#rb)"/><line x1="176" y1="500" x2="205" y2="562" marker-end="url(#rb)"/><line x1="182" y1="655" x2="214" y2="585" marker-end="url(#rb)"/><line x1="124" y1="681" x2="183" y2="671" marker-end="url(#rb)"/><line x1="171" y1="800" x2="178" y2="730" marker-end="url(#rb)"/><line x1="585" y1="550" x2="556" y2="592" marker-end="url(#rb)"/><line x1="653" y1="462" x2="615" y2="514" marker-end="url(#rb)"/><line x1="630" y1="602" x2="585" y2="553" marker-end="url(#rb)"/><line x1="545" y1="675" x2="527" y2="645" marker-end="url(#rb)"/><line x1="515" y1="735" x2="547" y2="670" marker-end="url(#rb)"/><line x1="610" y1="770" x2="575" y2="716" marker-end="url(#rb)"/>
</g>
<g fill="#808080">
<ellipse cx="343" cy="232" rx="20" ry="28"/><ellipse cx="402" cy="272" rx="20" ry="28"/><ellipse cx="341" cy="356" rx="20" ry="28"/><ellipse cx="281" cy="439" rx="20" ry="28"/><ellipse cx="183" cy="327" rx="20" ry="28"/><ellipse cx="96" cy="374" rx="20" ry="28"/><ellipse cx="181" cy="459" rx="20" ry="28"/><ellipse cx="586" cy="506" rx="20" ry="28"/><ellipse cx="650" cy="416" rx="20" ry="28"/><ellipse cx="657" cy="591" rx="20" ry="28"/><ellipse cx="579" cy="673" rx="20" ry="28"/><ellipse cx="641" cy="767" rx="20" ry="28"/><ellipse cx="520" cy="777" rx="20" ry="28"/><ellipse cx="203" cy="705" rx="20" ry="28"/><ellipse cx="108" cy="715" rx="20" ry="28"/><ellipse cx="195" cy="827" rx="20" ry="28"/>
</g>
<ellipse cx="240" cy="562" rx="23" ry="34" fill="#fff" stroke="#f00" stroke-width="1.6" stroke-dasharray="4 2"/>
<ellipse cx="240" cy="562" rx="18" ry="27" fill="#f00" stroke="#333" stroke-width="2.5"/>
<ellipse cx="524" cy="589" rx="23" ry="34" fill="#fff" stroke="#2f5597" stroke-width="1.6" stroke-dasharray="4 2"/>
<ellipse cx="524" cy="589" rx="18" ry="27" fill="#4472c4" stroke="#000" stroke-width="2.5"/>
<line x1="268" y1="590" x2="465" y2="610" stroke="#2f5597" stroke-width="9" stroke-dasharray="9 7"/>
<polygon points="464,595 494,613 464,632" fill="#2f5597"/>
<line x1="483" y1="645" x2="300" y2="626" stroke="#f00" stroke-width="9" stroke-dasharray="9 7"/>
<polygon points="304,606 272,622 304,644" fill="#f00"/>
</svg>

<p class="j" style="left:1978px;top:1822px;width:727px">For each tree, FGL uses a key structural observation: for neighboring nodes, their</p>
<p class="j" style="left:1978px;top:1845px;width:727px">globally aggregated messages differ only along <b>one edge direction</b>. This leads to</p>
<p style="left:1978px;top:1869px">two efficient recursions:</p>
<p class="li" style="left:2013px;top:1898px">a <b>bottom-up</b> recursion collects subtree information;</p>
<p class="li" style="left:2013px;top:1924px">a <b>top-down</b> recursion recovers global messages for every node.</p>
<p class="j" style="left:1978px;top:1953px;width:727px">In its linear implementation, FGL realizes global interaction effects with <b>linear time</b></p>
<p class="j" style="left:1978px;top:1977px;width:727px"><b>and space complexity per tree.</b> A post-hoc fuser then averages the tree-wise</p>
<p style="left:1978px;top:2001px">outputs and combines them with local representations.</p>
<p style="left:1363px;top:2271px"><b>Complexity</b></p>
<p style="left:1363px;top:2292px">Pre-training costs <span style="font-family:'Liberation Serif',serif"><i>O</i></span>((<i>n</i> + <i>m</i>)<i>d</i>). Student training costs <span style="font-family:'Liberation Serif',serif"><i>O</i></span>((<i>n</i> + <i>m</i>)<i>Kd</i>) with <i>K</i> sampled trees while remaining highly parallelizable.</p>

<p class="h" style="left:1359px;top:2386px">Local-Global Fusion and Operating Regime</p>
<p class="j" style="left:1359px;top:2458px;width:1346px">FGL fuses a local representation with the forest-level global representation, so the final embedding preserves neighborhood detail while injecting scalable</p>
<p style="left:1359px;top:2482px">long-range context.</p>
<p class="li" style="left:1394px;top:2511px"><b>Local module:</b> stabilizes fine-grained neighborhood evidence.</p>
<p class="li" style="left:1394px;top:2537px"><b>Forest fusion:</b> averages normalized outputs from multiple sampled trees.</p>
<p class="li" style="left:1394px;top:2563px"><b>Final balance:</b> combines local and global signals in one representation.</p>
<p class="li" style="left:1394px;top:2588px"><b>Empirical regime:</b> performance typically saturates with only <b>6–10 trees</b>, showing that a small forest already covers the essential global structure.</p>
<p style="left:1363px;top:2618px"><b>Method takeaway</b></p>
<p style="left:1363px;top:2639px">The methodological story is: <b>sample better trees</b>, <b>aggregate globally in linear time</b>, and <b>fuse tree-wise outputs with local structure</b>.</p>

<!-- RIGHT COLUMN -->
<p class="h" style="left:2921px;top:230px">Competitive Accuracy Across Diverse Graphs</p>
<p class="s" style="left:2921px;top:301px">Across nine benchmarks covering both homophilous and heterophilous graphs, FGL achieves the <b>best overall average rank</b> among representative strong baselines.</p>
<div class="r" style="left:3129px;top:330px;width:586px;height:2px"></div>
<div class="r" style="left:3129px;top:375px;width:586px;height:1px;background:#333"></div>
<div class="r" style="left:3129px;top:691px;width:586px;height:2px;background:#222"></div>
<div class="r" style="left:3129px;top:735px;width:586px;height:2px"></div>
<table style="left:3129px;top:331px;width:586px">
<colgroup><col style="width:112px"><col style="width:87px"><col style="width:111px"><col style="width:125px"><col style="width:73px"><col style="width:78px"></colgroup>
<tr style="height:45px"><td>Dataset</td><td>GCNII</td><td>SGFormer</td><td>DIFFormer</td><td>GOAT</td><td>Ours</td></tr>
<tr style="height:5px"><td colspan="6" style="font-size:0"></td></tr>
<tr style="height:34px"><td>Cora</td><td>85.34</td><td>82.38</td><td>83.32</td><td>83.18</td><td><b>85.46</b></td></tr>
<tr style="height:34px"><td>Citeseer</td><td>73.24</td><td>71.82</td><td><b>74.46</b></td><td>71.99</td><td>74.42</td></tr>
<tr style="height:34px"><td>Pubmed</td><td>79.88</td><td>80.64</td><td>78.16</td><td>79.13</td><td><b>81.00</b></td></tr>
<tr style="height:34px"><td>Actor</td><td>34.64</td><td>37.80</td><td>34.51</td><td>37.66</td><td><b>39.88</b></td></tr>
<tr style="height:34px"><td>Cornell</td><td>74.61</td><td>68.65</td><td>60.00</td><td>64.32</td><td><b>83.24</b></td></tr>
<tr style="height:34px"><td>Texas</td><td>69.19</td><td>78.92</td><td>68.11</td><td>76.76</td><td><b>91.89</b></td></tr>
<tr style="height:34px"><td>Wisconsin</td><td>70.31</td><td>80.00</td><td>63.92</td><td>73.33</td><td><b>86.27</b></td></tr>
<tr style="height:34px"><td>ArXiv</td><td>51.91</td><td>45.73</td><td>53.60</td><td>52.46</td><td><b>56.47</b></td></tr>
<tr style="height:34px"><td>Flickr</td><td>41.79</td><td>40.13</td><td>44.25</td><td>35.53</td><td><b>47.22</b></td></tr>
<tr style="height:5px"><td colspan="6" style="font-size:0"></td></tr>
<tr style="height:44px"><td>Avg. Rank</td><td>8.78</td><td>7.22</td><td>10.56</td><td>9.11</td><td><b>1.22</b></td></tr>
</table>
<p class="s" style="left:2924px;top:752px"><b>Reading the result</b></p>
<p class="s" style="left:2924px;top:765px">FGL is not only competitive on standard homophilous graphs, but also delivers particularly strong gains on several heterophilous benchmarks, supporting the value of long-range structured</p>
<p class="s" style="left:2924px;top:779px">propagation. The strongest visual takeaway for a poster audience is that <b>Ours</b> stays near the top or at the top across almost every row, rather than winning on only one graph type.</p>
<p class="s" style="left:2924px;top:800px"><b>Representative gains</b></p>
<p class="s" style="left:2924px;top:813px">The paper reports average relative improvements of <b>11.9%</b> over GCNII and <b>16.1%</b> over DIFFormer, highlighting that the proposed paradigm improves both accuracy and robustness across graph</p>
<p class="s" style="left:2924px;top:827px">regimes. Particularly large gains on Cornell, Texas, Wisconsin, and Flickr emphasize the practical value of long-range structured transport under challenging graph conditions.</p>
<p class="s" style="left:2924px;top:848px"><b>Why the gains matter</b></p>
<p class="s" style="left:2924px;top:860px">These datasets are not all of the same type: some are classic homophilous citation graphs, while others are challenging heterophilous settings. FGL performing well across both regimes supports the</p>
<p class="s" style="left:2924px;top:875px">broader claim that the forest-based paradigm is not specialized to only one structural pattern.</p>
<p class="s" style="left:2924px;top:895px"><b>How to read this table on the poster</b></p>
<p class="s" style="left:2924px;top:908px">The key message is not a single bold number. It is the <b>consistency pattern</b>: FGL performs strongly on both homophilous and heterophilous settings, which is exactly what one would expect from a</p>
<p class="s" style="left:2924px;top:923px">paradigm designed to combine <b>global coverage</b>, <b>structural bias</b>, and <b>efficiency</b>.</p>

<p class="h" style="left:2921px;top:1004px">Fast in Practice</p>
<p class="s" style="left:2921px;top:1074px">Beyond theoretical linear complexity, FGL is also <b>fast in practice</b>. The runtime table below shows that it remains competitive even against efficient recent baselines.</p>
<div class="r" style="left:3140px;top:1103px;width:564px;height:2px"></div>
<div class="r" style="left:3140px;top:1147px;width:564px;height:1px;background:#333"></div>
<div class="r" style="left:3140px;top:1324px;width:564px;height:2px;background:#666"></div>
<div class="r" style="left:3140px;top:1367px;width:564px;height:2px"></div>
<table style="left:3140px;top:1104px;width:564px">
<colgroup><col style="width:118px"><col style="width:81px"><col style="width:92px"><col style="width:106px"><col style="width:78px"><col style="width:89px"></colgroup>
<tr style="height:44px"><td>Method</td><td>Cora</td><td>Citeseer</td><td>Pubmed</td><td>Flickr</td><td>ArXiv</td></tr>
<tr style="height:5px"><td colspan="6" style="font-size:0"></td></tr>
<tr style="height:34px"><td>GOAT</td><td>1.026</td><td>1.045</td><td>1.450</td><td>28.281</td><td>58.772</td></tr>
<tr style="height:34px"><td>Exphormer</td><td>0.086</td><td>0.175</td><td>0.348</td><td>1.112</td><td>1.948</td></tr>
<tr style="height:34px"><td>SGFormer</td><td>0.010</td><td><b>0.011</b></td><td>0.021</td><td><b>0.051</b></td><td><b>0.114</b></td></tr>
<tr style="height:34px"><td>DIFFormer</td><td>0.029</td><td>0.030</td><td>0.047</td><td>0.297</td><td>0.545</td></tr>
<tr style="height:34px"><td>GCNII</td><td>0.066</td><td>0.033</td><td>1.306</td><td>1.373</td><td>2.843</td></tr>
<tr style="height:4px"><td colspan="6" style="font-size:0"></td></tr>
<tr style="height:43px"><td>Ours</td><td><b>0.005</b></td><td>0.019</td><td><b>0.020</b></td><td>0.079</td><td>0.246</td></tr>
</table>
<p class="s" style="left:2921px;top:1381px">FGL outperforms many strong graph transformers and deep GNN baselines in per-epoch runtime, while staying clearly more scalable than several heavier global models.</p>
<p class="s li" style="left:2956px;top:1406px"><b>Efficiency without collapse:</b> the method remains lightweight while still preserving strong accuracy.</p>
<p class="s li" style="left:2956px;top:1425px"><b>Practical contrast:</b> several transformer-style baselines become much heavier on Flickr and ArXiv, whereas FGL remains in a compact runtime regime.</p>
<p class="s li" style="left:2956px;top:1444px"><b>Scalability message:</b> the forest formulation avoids the memory pressure and runtime growth that often accompany dense global interaction.</p>
<p class="s li" style="left:2956px;top:1463px"><b>Poster message:</b> the paradigm is not only theoretically attractive; it also behaves like an efficient method in actual training runs.</p>

<p class="h" style="left:2921px;top:1543px">Why It Works</p>

<svg class="c" style="left:2860px;top:1530px" width="1150" height="800" viewBox="0 0 1568 1568" preserveAspectRatio="none">
<defs>
<pattern id="h1" width="5" height="5" patternUnits="userSpaceOnUse" patternTransform="rotate(45)"><rect width="5" height="5" fill="#f7c4b2"/><rect width="2" height="5" fill="#eaa78f"/></pattern>
<pattern id="h2" width="5" height="5" patternUnits="userSpaceOnUse" patternTransform="rotate(45)"><rect width="5" height="5" fill="#c6e2c7"/><rect width="2" height="5" fill="#a3cba5"/></pattern>
<pattern id="h3" width="5" height="5" patternUnits="userSpaceOnUse" patternTransform="rotate(45)"><rect width="5" height="5" fill="#b9dcf5"/><rect width="2" height="5" fill="#93c1e5"/></pattern>
<pattern id="h4" width="5" height="5" patternUnits="userSpaceOnUse" patternTransform="rotate(45)"><rect width="5" height="5" fill="#dcb8e0"/><rect width="2" height="5" fill="#c090c8"/></pattern>
</defs>
<rect x="84" y="186" width="1407" height="1007" fill="#fff"/>
<g stroke="#eee" stroke-width="1.2" fill="none">
<path d="M160 208H1485M160 386H1485M160 565H1485M160 744H1485M160 923H1485M334 208V1101M659 208V1101M985 208V1101M1310 208V1101"/>
</g>
<g stroke="#222" stroke-width="2">
<rect x="220" y="292" width="114" height="809" fill="#fb7a48"/>
<rect x="546" y="307" width="114" height="794" fill="#5cb85f"/>
<rect x="871" y="595" width="114" height="506" fill="#349ff0"/>
<rect x="1196" y="295" width="115" height="806" fill="#a63bb0"/>
</g>
<g stroke-width="1.3">
<rect x="334" y="385" width="114" height="716" fill="url(#h1)" stroke="#8a6a60"/>
<rect x="660" y="408" width="113" height="693" fill="url(#h2)" stroke="#6f8a70"/>
<rect x="985" y="669" width="114" height="432" fill="url(#h3)" stroke="#6585a0"/>
<rect x="1311" y="497" width="113" height="604" fill="url(#h4)" stroke="#7a5a85"/>
</g>
<path d="M160 208V1101H1485" fill="none" stroke="#ccc" stroke-width="1.5"/>
<g stroke="#ccc" stroke-width="1.5" fill="#fff">
<rect x="232" y="203" width="90" height="91" rx="6" ry="8"/><rect x="558" y="219" width="89" height="88" rx="6" ry="8"/><rect x="883" y="507" width="89" height="88" rx="6" ry="8"/><rect x="1208" y="206" width="90" height="89" rx="6" ry="8"/>
</g>
<g stroke="#aaa" stroke-width="1.5" fill="#d9d9d9">
<rect x="338" y="296" width="106" height="88" rx="6" ry="8"/><rect x="663" y="320" width="107" height="88" rx="6" ry="8"/><rect x="989" y="581" width="106" height="88" rx="6" ry="8"/><rect x="1314" y="409" width="107" height="88" rx="6" ry="8"/>
</g>
<g font-size="18" font-weight="bold" fill="#111">
<text transform="translate(277 228) scale(1.3635 1.96)">Ours</text><text transform="translate(277 264) scale(1.3635 1.96)">0.9052</text>
<text transform="translate(602 242) scale(1.3635 1.96)">Ours</text><text transform="translate(602 279) scale(1.3635 1.96)">0.8888</text>
<text transform="translate(927 530) scale(1.3635 1.96)">Ours</text><text transform="translate(927 567) scale(1.3635 1.96)">0.5662</text>
<text transform="translate(1253 230) scale(1.3635 1.96)">Ours</text><text transform="translate(1253 266) scale(1.3635 1.96)">0.9026</text>
</g>
<g font-size="18" fill="#333">
<text transform="translate(390 320) scale(1.3635 1.96)">Random</text><text transform="translate(390 356) scale(1.3635 1.96)">0.8018</text>
<text transform="translate(716 343) scale(1.3635 1.96)">Random</text><text transform="translate(716 380) scale(1.3635 1.96)">0.7756</text>
<text transform="translate(1041 604) scale(1.3635 1.96)">Random</text><text transform="translate(1041 641) scale(1.3635 1.96)">0.4834</text>
<text transform="translate(1367 432) scale(1.3635 1.96)">Random</text><text transform="translate(1367 469) scale(1.3635 1.96)">0.6758</text>
</g>
<rect x="781" y="225" width="348" height="112" rx="5" ry="6" fill="#fff" stroke="#ccc" stroke-width="1.5"/>
<rect x="790" y="240" width="50" height="26" fill="#fb7a48" stroke="#222" stroke-width="1.5"/>
<rect x="790" y="290" width="50" height="26" fill="url(#h1)" stroke="#bbb" stroke-width="1"/>
<g font-size="18" fill="#222" style="text-anchor:start">
<text transform="translate(858 253) scale(1.3635 1.96)" style="text-anchor:start">**Ours**</text>
<text transform="translate(858 303) scale(1.3635 1.96)" style="text-anchor:start">Random Spanning Tree</text>
</g>
<g font-size="18" fill="#333">
<text transform="translate(138 208) scale(1.3635 1.96)">1.0</text><text transform="translate(138 386) scale(1.3635 1.96)">0.8</text><text transform="translate(138 565) scale(1.3635 1.96)">0.6</text><text transform="translate(138 744) scale(1.3635 1.96)">0.4</text><text transform="translate(138 923) scale(1.3635 1.96)">0.2</text><text transform="translate(138 1101) scale(1.3635 1.96)">0.0</text>
</g>
<g font-size="18" font-weight="bold" fill="#222">
<text transform="translate(333 1123) scale(1.3635 1.96)">Cora</text><text transform="translate(659 1123) scale(1.3635 1.96)">Pubmed</text><text transform="translate(985 1123) scale(1.3635 1.96)">Actor</text><text transform="translate(1310 1123) scale(1.3635 1.96)">Cornell</text>
</g>
<text transform="translate(822 1162) scale(1.3635 1.96)" font-size="21.5" font-weight="bold" fill="#222">Datasets</text>
<text transform="translate(100 652) scale(1.3635 1.96) rotate(-90)" font-size="22" font-weight="bold" fill="#222">homophily ratio</text>
</svg>

<p class="s" style="left:2921px;top:2155px">FGL does <b>not</b> sample trees uniformly. Its homophily-guided distribution yields trees with <b>higher homophily ratios</b> than random spanning trees, making long-range information easier to aggregate and</p>
<p class="s" style="left:2921px;top:2169px">exploit. This empirically supports the mechanism suggested by the theory and helps explain the strong downstream gains.</p>
<p class="s li" style="left:2956px;top:2206px">Better homophily estimation improves the <b>quality of sampled trees</b>.</p>
<p class="s li" style="left:2956px;top:2225px">Better trees make long-range propagation <b>easier to exploit downstream</b>.</p>
<p class="s li" style="left:2956px;top:2244px">This creates a direct bridge from <b>theory</b> to <b>sampling quality</b> to <b>final accuracy</b>.</p>
<p class="s li" style="left:2956px;top:2263px">The bar chart should be read as a <b>mechanism plot</b>: FGL first changes the distribution of trees, and only then benefits classification.</p>

<p class="h g" style="left:2921px;top:2343px">Take-home Messages</p>
<p class="m" style="left:2921px;top:2397px">The poster can be summarized in one sentence: <b>FGL replaces expensive global interaction or very deep local stacking with a small</b></p>
<p class="m" style="left:2921px;top:2417px"><b>forest of informative spanning trees.</b></p>
<p class="m li" style="left:2956px;top:2455px">Forests provide a principled middle ground between <b>deep local stacking</b> and <b>dense global interaction</b>.</p>
<p class="m li" style="left:2956px;top:2477px">Homophily-guided tree sampling improves the <b>quality of global propagation</b>.</p>
<p class="m li" style="left:2956px;top:2498px">The two-recursion tree aggregator makes globally connected message passing <b>computationally lightweight</b>.</p>
<p class="m li" style="left:2956px;top:2519px">The local-global fusion stage keeps the method effective even when a single tree would be too sparse.</p>
<p class="m li" style="left:2956px;top:2540px">FGL demonstrates that <b>paradigm-level redesign</b> can improve both <b>effectiveness</b> and <b>efficiency</b> in graph learning.</p>
<p class="m li" style="left:2956px;top:2562px">For a poster audience, the intended memory hook is simple: <b>a few good trees can be better than many local steps or one dense</b></p>
<p class="m" style="left:2956px;top:2582px"><b>global operator</b>.</p>
<p class="m" style="left:2921px;top:2620px">The intended closing impression is that FGL is not just another graph block: it is a <b>new way to organize long-range graph computation</b>.</p>
<p class="m" style="left:2921px;top:2640px">This unifying viewpoint is what connects the dilemma, the theory, the method, and the empirical evidence on this poster.</p>

</body></html>
